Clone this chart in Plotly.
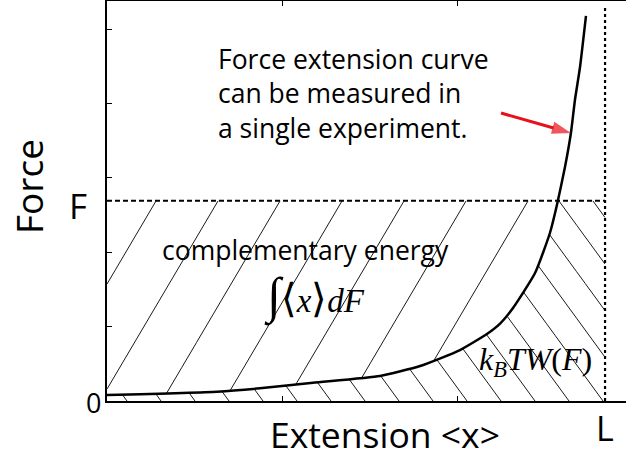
import numpy as np
import plotly.graph_objects as go

# ---- data ----
curve_x = [0.000, 0.629, 0.874, 1.177, 1.560, 1.789, 2.017, 2.171, 2.246, 2.320,
           2.446, 2.531, 2.571, 2.617, 2.651, 2.674, 2.703, 2.737]
curve_y = [0.081, 0.126, 0.171, 0.246, 0.336, 0.470, 0.685, 0.900, 1.040, 1.250,
           1.720, 2.258, 2.634, 3.145, 3.602, 4.046, 4.489, 5.175]
F_level = 2.69
L_level = 2.846
x_ticks = [1, 2]
y_ticks = [1, 2, 3, 4, 5]
x_title = "Extension &lt;x&gt;"
y_title = "Force"

# ---- layout geometry ----
W, H = 626, 459
ML, MR, MT, MB = 107, 0, 1, 58
SX = 175.0   # px per x unit
SY = 74.4    # px per y unit
X_MAX = (W - ML - MR) / SX
Y_MAX = (H - MT - MB) / SY


def px2x(px):
    return (px - ML) / SX


def py2y(py):
    return (H - MB - py) / SY


def px2paper(px):
    return (px - ML) / (W - ML - MR)


def py2paper(py):
    return (H - MB - py) / (H - MT - MB)


cx = np.array(curve_x)
cy = np.array(curve_y)


def yc(x):
    return np.interp(x, cx, cy, left=cy[0], right=1e9)


def hatch(intercepts_px, slope_px, region):
    xs, ys = [], []
    yy = np.linspace(0, F_level, 1200)
    k = slope_px * SY / SX
    for b in intercepts_px:
        x0 = px2x(b)
        xx = x0 + k * yy
        m = region(xx, yy)
        for xi, yi, mi in zip(xx, yy, m):
            if mi:
                xs.append(float(xi)); ys.append(float(yi))
            else:
                if xs and xs[-1] is not None:
                    xs.append(None); ys.append(None)
        if xs and xs[-1] is not None:
            xs.append(None); ys.append(None)
    return xs, ys


def region1(x, y):
    return (x >= 0) & (y <= F_level) & (y >= yc(x))


def region2(x, y):
    return (x <= L_level) & (x >= 0) & (y >= 0) & (y <= F_level) & (y <= yc(x))


fig = go.Figure()

h1x, h1y = hatch([162 + 62 * k for k in range(-3, 8)], 0.59, region1)
h2x, h2y = hatch([603 - 34 * k for k in range(-5, 16)], -0.73, region2)
fig.add_trace(go.Scatter(x=h1x, y=h1y, mode="lines", line=dict(color="black", width=0.9),
                         hoverinfo="skip", showlegend=False))
fig.add_trace(go.Scatter(x=h2x, y=h2y, mode="lines", line=dict(color="black", width=0.9),
                         hoverinfo="skip", showlegend=False))

# F dashed line and L dotted line
fig.add_trace(go.Scatter(x=[0, L_level], y=[F_level, F_level], mode="lines",
                         line=dict(color="black", width=2, dash="5px,3px"),
                         hoverinfo="skip", showlegend=False))
fig.add_trace(go.Scatter(x=[L_level, L_level], y=[0, py2y(5)], mode="lines",
                         line=dict(color="black", width=2.2, dash="3px,3px"),
                         hoverinfo="skip", showlegend=False))

# force-extension curve
fig.add_trace(go.Scatter(x=curve_x, y=curve_y, mode="lines",
                         line=dict(color="black", width=2.5, shape="spline", smoothing=0.5),
                         hoverinfo="skip", showlegend=False))

# red arrow pointing to the curve
i_arrow = 14
fig.add_trace(go.Scatter(x=[px2x(501), curve_x[i_arrow]], y=[py2y(113), curve_y[i_arrow]],
                         mode="lines+markers",
                         line=dict(color="#e8101a", width=3),
                         marker=dict(symbol="arrow", size=[0, 20], angleref="previous",
                                     color="#e8101a", line=dict(width=0)),
                         hoverinfo="skip", showlegend=False))

SANS = "Open Sans"
SERIF = "Liberation Serif"
ann = []


def text(t, px, py, size, family=SANS, xanchor="center", yanchor="middle", angle=0,
         align="center"):
    ann.append(dict(text=t, x=px2paper(px), y=py2paper(py), xref="paper", yref="paper",
                    showarrow=False, xanchor=xanchor, yanchor=yanchor, textangle=angle,
                    align=align, font=dict(family=family, size=size, color="black")))


text("Force extension curve<br>can be measured in<br>a single experiment.", 216, 93, 26.5,
     xanchor="left", align="left")
text("complementary energy", 160, 250, 26.5, xanchor="left")
text("<span style='font-size:50px'>∫</span><span style='font-size:40px'>⟨</span><i>x</i>"
     "<span style='font-size:40px'>⟩</span><i>dF</i>", 314, 296, 33, family=SERIF)
text("<i>k</i><sub><i>B</i></sub><i>TW</i>(<i>F</i>)", 535, 361, 32, family=SERIF)
text("F", 78, 205, 35)
text("0", 93, 402, 27)
text("L", 605, 428, 34)

fig.update_layout(
    width=W, height=H, margin=dict(l=ML, r=MR, t=MT, b=MB, pad=0),
    paper_bgcolor="white", plot_bgcolor="white", showlegend=False,
    annotations=ann,
    xaxis=dict(range=[0, X_MAX], showgrid=False, zeroline=False, showline=True,
               linecolor="black", linewidth=2, mirror="ticks", ticks="inside",
               ticklen=5, tickwidth=1, tickcolor="black", tickvals=x_ticks,
               showticklabels=False, fixedrange=True, automargin=False,
               title=dict(text="&nbsp;&nbsp;&nbsp;&nbsp;" + x_title, standoff=21,
                          font=dict(family=SANS, size=35.5, color="black"))),
    yaxis=dict(range=[0, Y_MAX], showgrid=False, zeroline=False, showline=True,
               linecolor="black", linewidth=2, mirror=False, ticks="inside",
               ticklen=5, tickwidth=1, tickcolor="black", tickvals=y_ticks,
               showticklabels=False, fixedrange=True, automargin=False,
               title=dict(text="&nbsp;&nbsp;&nbsp;" + y_title, standoff=50,
                          font=dict(family=SANS, size=37, color="black"))),
)

fig.write_html("out.html", config={"displayModeBar": False},
               post_script="document.body.style.margin='0';")
